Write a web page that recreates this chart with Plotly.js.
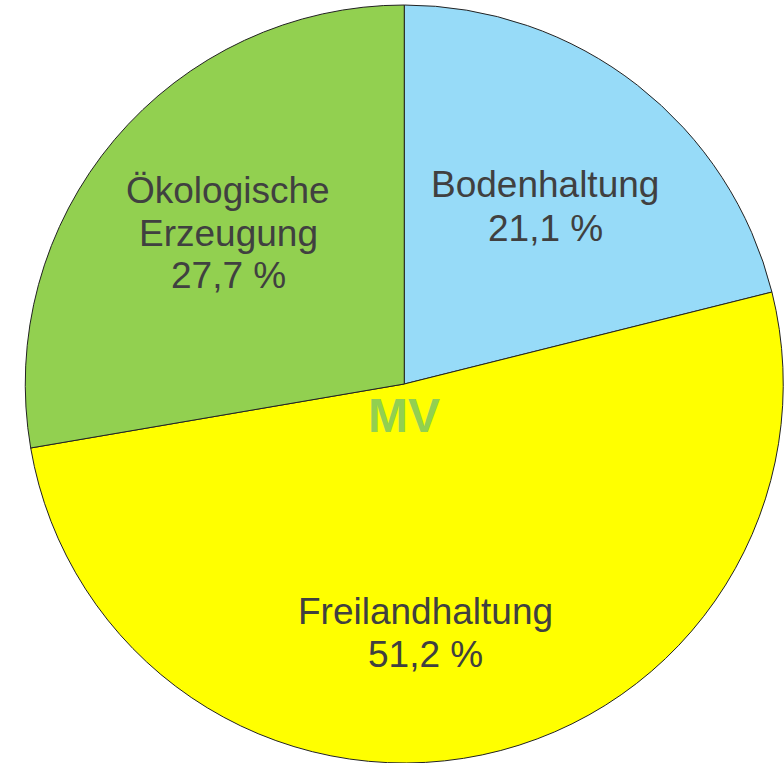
<!DOCTYPE html>
<html>
<head>
<meta charset="utf-8">
<script src="https://cdn.plot.ly/plotly-3.0.1.min.js"></script>
<style>html,body{margin:0;padding:0;background:#fff;}#chart{width:784px;height:763px;}</style>
</head>
<body>
<div id="chart"></div>
<script>
// Data
const categories = ["Bodenhaltung", "Freilandhaltung", "Ökologische Erzeugung"];
const labelLines = [["Bodenhaltung"], ["Freilandhaltung"], ["Ökologische", "Erzeugung"]];
const values = [21.1, 51.2, 27.7];
const colors = ["#97DBF8", "#FFFF00", "#92D050"];
const centerLabel = "MV";

// label anchor positions in pixels (layout only)
const labelPos = [[545, 185], [425, 611], [228, 190]];
const lineStep = 43;
const W = 784, H = 763;

const annotations = [];
categories.forEach((c, i) => {
  const lines = labelLines[i].concat([values[i].toFixed(1).replace('.', ',') + ' %']);
  lines.forEach((t, j) => {
    annotations.push({
      text: t, xref: 'paper', yref: 'paper',
      x: labelPos[i][0] / W, y: 1 - (labelPos[i][1] + j * lineStep) / H,
      xanchor: 'center', yanchor: 'middle', showarrow: false,
      font: {family: 'Liberation Sans, Arial, sans-serif', size: 37, color: '#404040'}
    });
  });
});
annotations.push({
  text: '<b>' + centerLabel + '</b>', xref: 'paper', yref: 'paper',
  x: 404 / W, y: 1 - 415 / H, xanchor: 'center', yanchor: 'middle', showarrow: false,
  font: {family: 'Liberation Sans, Arial, sans-serif', size: 48, color: '#92D050'}
});

const trace = {
  type: 'pie', labels: categories, values: values, sort: false,
  direction: 'clockwise', rotation: 0,
  marker: {colors: colors, line: {color: '#222222', width: 1}},
  textinfo: 'none', hoverinfo: 'none', showlegend: false,
  domain: {x: [24.5 / W, 1], y: [0, 758 / H]}
};

Plotly.newPlot('chart', [trace], {
  width: W, height: H, margin: {l: 0, r: 0, t: 0, b: 0, pad: 0},
  paper_bgcolor: '#ffffff', showlegend: false, annotations: annotations
}, {displayModeBar: false, staticPlot: true});
</script>
</body>
</html>
